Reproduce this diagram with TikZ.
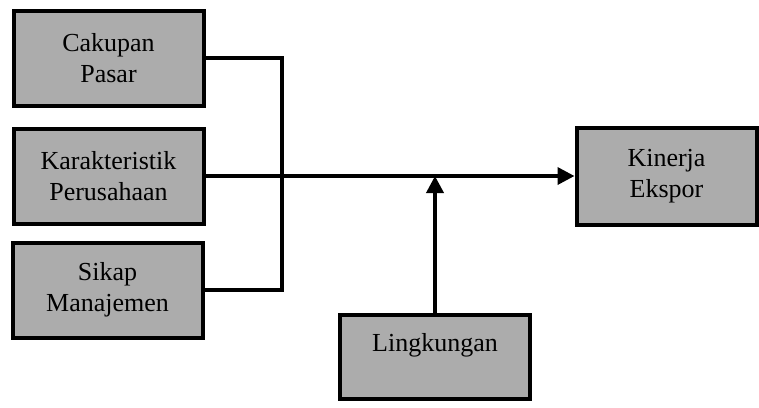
\documentclass[tikz,border=0pt]{standalone}
\usepackage{fontspec}
\setmainfont{Liberation Serif}
\usepackage{tikz}
\usetikzlibrary{arrows.meta,positioning,calc}
\definecolor{boxgray}{RGB}{172, 172, 172}

\begin{document}
\begin{tikzpicture}[
    x=1pt, y=-1pt,
    box/.style={rectangle, draw, line width=4pt, fill=boxgray, minimum width=190pt, minimum height=95pt, align=center, inner sep=0pt, font=\fontsize{26}{31}\selectfont},
    line/.style={line width=3.6pt},
    arrow/.style={-{Triangle[length=17pt,width=17pt]}, line width=3.6pt}
]
\useasboundingbox (0,0) rectangle (759,407);

\node[box] (cakupan) at (108.5,58) {Cakupan\\Pasar};

\node[box] (karakteristik) at (108.5,176) {Karakteristik\\Perusahaan};

\node[box] (sikap) at (107.5,290) {Sikap\\Manajemen};

\node[box, minimum width=180pt, minimum height=97pt] (kinerja) at (666.5,176) {Kinerja\\Ekspor};

\node[box, minimum height=84pt, text height=18pt, text depth=30pt] (lingkungan) at (435,357) {Lingkungan};

\coordinate (junction) at (282,176);

% bracket joining the three factors
\draw[line] (cakupan.east) -| (junction) |- (sikap.east);

% main flow and moderating arrow
\draw[arrow] (karakteristik.east) -- (kinerja.west);
\draw[arrow] (lingkungan.north) -- (lingkungan.north |- kinerja.west);

\end{tikzpicture}
\end{document}
